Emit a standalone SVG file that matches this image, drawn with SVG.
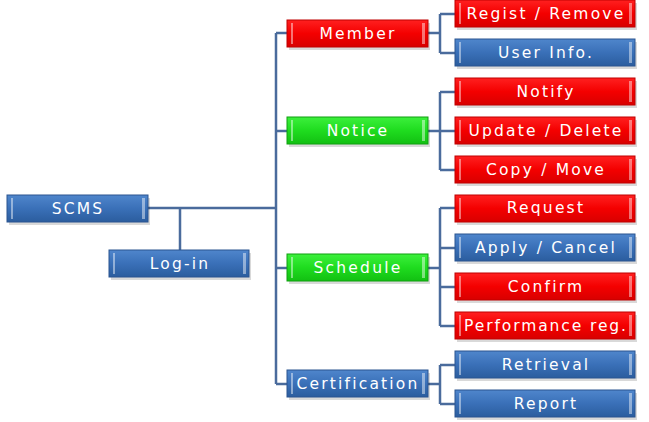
<svg xmlns="http://www.w3.org/2000/svg" width="649" height="422" viewBox="0 0 649 422">
<defs>
<linearGradient id="gb" x1="0" y1="0" x2="0" y2="1"><stop offset="0" stop-color="#4f86cc"/><stop offset="0.5" stop-color="#3a70b8"/><stop offset="1" stop-color="#2b5d9e"/></linearGradient>
<linearGradient id="gr" x1="0" y1="0" x2="0" y2="1"><stop offset="0" stop-color="#ff2020"/><stop offset="0.5" stop-color="#f40000"/><stop offset="1" stop-color="#d80000"/></linearGradient>
<linearGradient id="gg" x1="0" y1="0" x2="0" y2="1"><stop offset="0" stop-color="#3cf03c"/><stop offset="0.5" stop-color="#1fdc1f"/><stop offset="1" stop-color="#12c012"/></linearGradient>
</defs>
<style>
.c{fill:none;stroke:#4a6b9c;stroke-width:2.5}
.b{fill:url(#gb);stroke:#2a5590;stroke-width:1}
.r{fill:url(#gr);stroke:#c00000;stroke-width:1}
.g{fill:url(#gg);stroke:#10a010;stroke-width:1}
.sh{fill:#000;opacity:0.15}
.hl{fill:#ffffff;opacity:0.45}
.t{font-family:"DejaVu Sans",sans-serif;font-size:15.5px;fill:#fff;text-anchor:middle;dominant-baseline:central;letter-spacing:2.2px}
</style>
<g id="connectors">
<path class="c" d="M148 208 H276 M180 208 V250 M276 33 V384 M276 33 H287 M276 131 H287 M276 268 H287 M276 384 H287"/>
<path class="c" d="M428 33 H440 M440 14 V53 M440 14 H455 M440 53 H455"/>
<path class="c" d="M428 131 H440 M440 92 V170 M440 92 H455 M440 131 H455 M440 170 H455"/>
<path class="c" d="M428 268 H440 M440 208 V326 M440 208 H455 M440 248 H455 M440 287 H455 M440 326 H455"/>
<path class="c" d="M428 384 H440 M440 365 V404 M440 365 H455 M440 404 H455"/>
</g>
<g id="scms"><rect class="sh" x="9" y="198" width="141" height="27"/><rect class="b" x="7" y="195" width="141" height="27"/><rect class="hl" x="11" y="198" width="2" height="21"/><rect class="hl" x="142" y="198" width="3" height="21"/><text class="t" x="78" y="209">SCMS</text></g>
<g id="login"><rect class="sh" x="111" y="253" width="140" height="27"/><rect class="b" x="109" y="250" width="140" height="27"/><rect class="hl" x="113" y="253" width="2" height="21"/><rect class="hl" x="243" y="253" width="3" height="21"/><text class="t" x="180" y="264">Log-in</text></g>
<g id="member"><rect class="sh" x="289" y="23" width="141" height="27"/><rect class="r" x="287" y="20" width="141" height="27"/><rect class="hl" x="291" y="23" width="2" height="21"/><rect class="hl" x="422" y="23" width="3" height="21"/><text class="t" x="358" y="34">Member</text></g>
<g id="notice"><rect class="sh" x="289" y="120" width="141" height="27"/><rect class="g" x="287" y="117" width="141" height="27"/><rect class="hl" x="291" y="120" width="2" height="21"/><rect class="hl" x="422" y="120" width="3" height="21"/><text class="t" x="358" y="131">Notice</text></g>
<g id="schedule"><rect class="sh" x="289" y="257" width="141" height="27"/><rect class="g" x="287" y="254" width="141" height="27"/><rect class="hl" x="291" y="257" width="2" height="21"/><rect class="hl" x="422" y="257" width="3" height="21"/><text class="t" x="358" y="268">Schedule</text></g>
<g id="certification"><rect class="sh" x="289" y="373" width="141" height="27"/><rect class="b" x="287" y="370" width="141" height="27"/><rect class="hl" x="291" y="373" width="2" height="21"/><rect class="hl" x="422" y="373" width="3" height="21"/><text class="t" x="358" y="384">Certification</text></g>
<g id="regist"><rect class="sh" x="457" y="3" width="180" height="27"/><rect class="r" x="455" y="0" width="180" height="27"/><rect class="hl" x="459" y="3" width="2" height="21"/><rect class="hl" x="629" y="3" width="3" height="21"/><text class="t" x="546" y="14">Regist / Remove</text></g>
<g id="userinfo"><rect class="sh" x="457" y="42" width="180" height="27"/><rect class="b" x="455" y="39" width="180" height="27"/><rect class="hl" x="459" y="42" width="2" height="21"/><rect class="hl" x="629" y="42" width="3" height="21"/><text class="t" x="546" y="53">User Info.</text></g>
<g id="notify"><rect class="sh" x="457" y="81" width="180" height="27"/><rect class="r" x="455" y="78" width="180" height="27"/><rect class="hl" x="459" y="81" width="2" height="21"/><rect class="hl" x="629" y="81" width="3" height="21"/><text class="t" x="546" y="92">Notify</text></g>
<g id="update"><rect class="sh" x="457" y="120" width="180" height="27"/><rect class="r" x="455" y="117" width="180" height="27"/><rect class="hl" x="459" y="120" width="2" height="21"/><rect class="hl" x="629" y="120" width="3" height="21"/><text class="t" x="546" y="131">Update / Delete</text></g>
<g id="copy"><rect class="sh" x="457" y="159" width="180" height="27"/><rect class="r" x="455" y="156" width="180" height="27"/><rect class="hl" x="459" y="159" width="2" height="21"/><rect class="hl" x="629" y="159" width="3" height="21"/><text class="t" x="546" y="170">Copy / Move</text></g>
<g id="request"><rect class="sh" x="457" y="198" width="180" height="27"/><rect class="r" x="455" y="195" width="180" height="27"/><rect class="hl" x="459" y="198" width="2" height="21"/><rect class="hl" x="629" y="198" width="3" height="21"/><text class="t" x="546" y="208">Request</text></g>
<g id="apply"><rect class="sh" x="457" y="237" width="180" height="27"/><rect class="b" x="455" y="234" width="180" height="27"/><rect class="hl" x="459" y="237" width="2" height="21"/><rect class="hl" x="629" y="237" width="3" height="21"/><text class="t" x="546" y="248">Apply / Cancel</text></g>
<g id="confirm"><rect class="sh" x="457" y="276" width="180" height="27"/><rect class="r" x="455" y="273" width="180" height="27"/><rect class="hl" x="459" y="276" width="2" height="21"/><rect class="hl" x="629" y="276" width="3" height="21"/><text class="t" x="546" y="287">Confirm</text></g>
<g id="performance"><rect class="sh" x="457" y="315" width="180" height="27"/><rect class="r" x="455" y="312" width="180" height="27"/><rect class="hl" x="459" y="315" width="2" height="21"/><rect class="hl" x="629" y="315" width="3" height="21"/><text class="t" x="546" y="326" style="letter-spacing:1.9px">Performance reg.</text></g>
<g id="retrieval"><rect class="sh" x="457" y="354" width="180" height="27"/><rect class="b" x="455" y="351" width="180" height="27"/><rect class="hl" x="459" y="354" width="2" height="21"/><rect class="hl" x="629" y="354" width="3" height="21"/><text class="t" x="546" y="365">Retrieval</text></g>
<g id="report"><rect class="sh" x="457" y="393" width="180" height="27"/><rect class="b" x="455" y="390" width="180" height="27"/><rect class="hl" x="459" y="393" width="2" height="21"/><rect class="hl" x="629" y="393" width="3" height="21"/><text class="t" x="546" y="404">Report</text></g>
</svg>
